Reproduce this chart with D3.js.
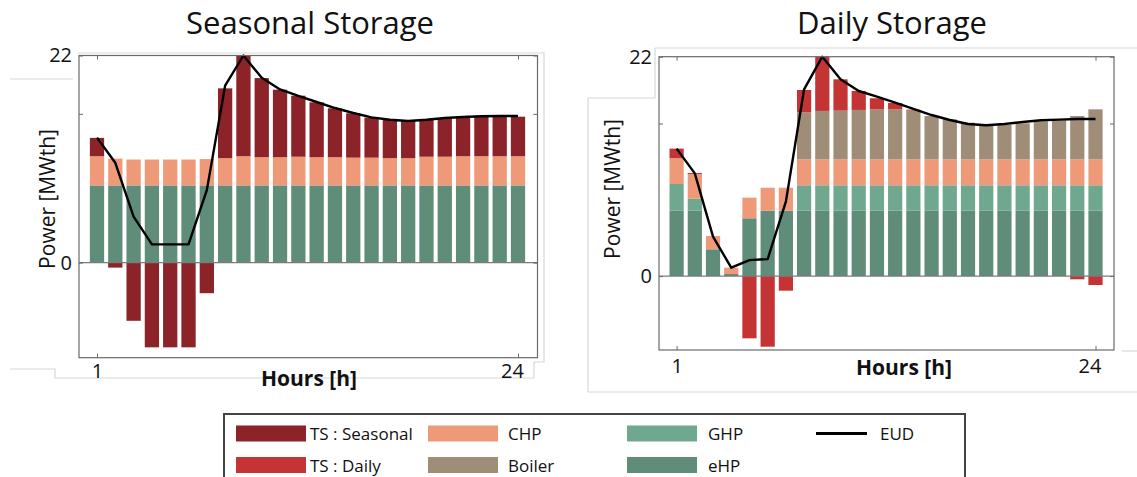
<!DOCTYPE html>
<html>
<head>
<meta charset="utf-8">
<script src="https://cdn.jsdelivr.net/npm/d3@7"></script>
<style>
  html, body { margin: 0; padding: 0; background: #ffffff; }
  svg { display: block; font-family: "Open Sans", "DejaVu Sans", sans-serif; }
</style>
</head>
<body>
<svg id="chart" width="1137" height="477"></svg>
<script>
// ---------------- DATA ----------------
const hours = [1,2,3,4,5,6,7,8,9,10,11,12,13,14,15,16,17,18,19,20,21,22,23,24];
const hourTickValues = [1, 24];
const yTickValues = [0, 22];

// Seasonal storage scenario (MWth)
const seasonalEHP = [8.2,8.2,8.2,8.2,8.2,8.2,8.2,8.2,8.2,8.2,8.2,8.2,8.2,8.2,8.2,8.2,8.2,8.2,8.2,8.2,8.2,8.2,8.2,8.2];
const seasonalCHP = [3.1,2.85,2.75,2.75,2.75,2.75,2.8,2.9,3.1,3.0,3.0,3.05,3.0,3.0,2.95,2.95,2.9,2.9,3.05,3.05,3.1,3.1,3.1,3.1];
const seasonalTS  = [1.95,-0.53,-6.18,-9.0,-9.0,-9.0,-3.25,7.41,10.67,8.4,7.17,6.48,5.83,5.19,4.71,4.25,4.05,3.95,3.9,4.08,4.14,4.17,4.2,4.2];
const seasonalEUD = [13.28,10.6,4.88,1.94,1.94,1.94,7.7,18.8,22.0,19.63,18.4,17.7,17.06,16.42,15.89,15.43,15.18,15.05,15.18,15.36,15.47,15.54,15.58,15.58];
const seasonalMinorTicks = [15.8];

// Daily storage scenario (MWth)
const dailyEHP    = [6.55,6.55,2.68,0.2,5.79,6.55,6.55,6.55,6.55,6.55,6.55,6.55,6.55,6.55,6.55,6.55,6.55,6.55,6.55,6.55,6.55,6.55,6.55,6.55];
const dailyGHP    = [2.68,1.21,0,0,0,0,0,2.55,2.55,2.55,2.55,2.55,2.55,2.55,2.55,2.55,2.55,2.55,2.55,2.55,2.55,2.55,2.55,2.55];
const dailyCHP    = [2.58,2.47,1.33,0.64,2.07,2.31,2.31,2.6,2.6,2.6,2.6,2.6,2.6,2.6,2.6,2.6,2.6,2.6,2.6,2.6,2.6,2.6,2.6,2.6];
const dailyBoiler = [0,0,0,0,0,0,0,4.72,4.86,4.89,4.96,5.02,5.02,4.89,4.35,4.02,3.68,3.45,3.45,3.62,3.82,3.92,4.35,5.02];
const dailyTS     = [0.97,0.1,0,0,-6.25,-7.09,-1.47,2.24,5.44,3.14,1.9,1.11,0.64,0.1,0,0,0,0,0,0,0,0,-0.33,-0.9];
const dailyEUD    = [12.78,10.3,3.95,0.84,1.6,1.7,7.46,18.73,22.0,19.73,18.56,18.0,17.4,16.76,16.15,15.65,15.25,15.12,15.25,15.45,15.62,15.69,15.75,15.75];
const dailyMinorTicks = [15.3];

const seriesKeys = ["eHP", "GHP", "CHP", "Boiler", "TS : Daily", "TS : Seasonal"];
const colors = {
  "TS : Seasonal": "#8B2328",
  "TS : Daily": "#C43434",
  "CHP": "#EE9A79",
  "Boiler": "#A08D78",
  "GHP": "#6FA88F",
  "eHP": "#5F8D79"
};
const titles = ["Seasonal Storage", "Daily Storage"];
const yLabel = "Power [MWth]";
const xLabel = "Hours [h]";
const legendRows = [
  ["TS : Seasonal", "CHP", "GHP", "EUD"],
  ["TS : Daily", "Boiler", "eHP"]
];

// ---------------- DRAW ----------------
const svg = d3.select("#chart");

function buildRows(parts) {
  return hours.map((h, i) => {
    const row = { hour: h };
    seriesKeys.forEach(k => { row[k] = parts[k] ? parts[k][i] : 0; });
    return row;
  });
}

function drawPanel(cfg) {
  const g = svg.append("g");
  const step = (cfg.c24 - cfg.c1) / 23;
  const x = d3.scaleBand().domain(hours)
    .range([cfg.c1 - step / 2, cfg.c24 + step / 2])
    .paddingInner(0.22).paddingOuter(0.11);
  const y = d3.scaleLinear().domain(cfg.yDomain).range([cfg.bottom, cfg.top]);

  // decorative pasted-image outline
  cfg.decor.forEach(pts => {
    g.append("path").attr("d", d3.line()(pts))
      .attr("fill", "none").attr("stroke", "#d8d8d8").attr("stroke-width", 1.2);
  });

  // title
  g.append("text").attr("x", cfg.titleX).attr("y", 34)
    .attr("text-anchor", "middle").attr("font-size", 31).attr("fill", "#111")
    .text(cfg.title);

  // frame background
  g.append("rect").attr("x", cfg.left).attr("y", cfg.top)
    .attr("width", cfg.right - cfg.left).attr("height", cfg.bottom - cfg.top)
    .attr("fill", "#fff");

  // bars
  const rows = buildRows(cfg.parts);
  const stack = d3.stack().keys(seriesKeys).offset(d3.stackOffsetDiverging);
  const layers = stack(rows);
  g.append("g").selectAll("g").data(layers).join("g")
    .attr("fill", d => colors[d.key])
    .selectAll("rect").data(d => d.filter(v => v[1] !== v[0])).join("rect")
    .attr("x", d => x(d.data.hour))
    .attr("width", x.bandwidth())
    .attr("y", d => y(Math.max(d[0], d[1])))
    .attr("height", d => Math.abs(y(d[0]) - y(d[1])));

  // zero line
  g.append("line").attr("x1", cfg.left).attr("x2", cfg.right)
    .attr("y1", y(0)).attr("y2", y(0))
    .attr("stroke", "#7a7a7a").attr("stroke-width", 1.3);

  // EUD line
  const line = d3.line()
    .x((d, i) => x(hours[i]) + x.bandwidth() / 2)
    .y(d => y(d));
  g.append("path").datum(cfg.eud).attr("d", line)
    .attr("fill", "none").attr("stroke", "#000").attr("stroke-width", 2.4)
    .attr("stroke-linejoin", "round");

  // frame
  g.append("rect").attr("x", cfg.left).attr("y", cfg.top)
    .attr("width", cfg.right - cfg.left).attr("height", cfg.bottom - cfg.top)
    .attr("fill", "none").attr("stroke", "#6a6a6a").attr("stroke-width", 1.2);

  const xc = d3.scaleLinear().domain([hours[0], hours[hours.length - 1]]).range([cfg.c1, cfg.c24]);

  // axes
  const yAll = yTickValues.concat(cfg.minor);
  const yAxis = d3.axisLeft(y).tickValues(yAll).tickSizeInner(-4).tickSizeOuter(0).tickPadding(7)
    .tickFormat(d => yTickValues.includes(d) ? String(d) : "");
  const ga = g.append("g").attr("transform", `translate(${cfg.left},0)`).call(yAxis);
  const yAxisR = d3.axisRight(y).tickValues(yAll).tickSizeInner(-4).tickSizeOuter(0).tickFormat("");
  const gr = g.append("g").attr("transform", `translate(${cfg.right},0)`).call(yAxisR);
  const xAxis = d3.axisBottom(xc).tickValues(hourTickValues).tickSizeInner(-4).tickSizeOuter(0).tickPadding(cfg.xPad)
    .tickFormat(d => String(d));
  const gb = g.append("g").attr("transform", `translate(0,${cfg.bottom})`).call(xAxis);
  const xAxisT = d3.axisTop(xc).tickValues(hourTickValues).tickSizeInner(-4).tickSizeOuter(0).tickFormat("");
  const gt = g.append("g").attr("transform", `translate(0,${cfg.top})`).call(xAxisT);
  [ga, gr, gb, gt].forEach(a => {
    a.select(".domain").remove();
    a.selectAll(".tick line").attr("stroke", "#6a6a6a");
    a.selectAll("text").attr("font-family", "\"Open Sans\", sans-serif")
      .attr("font-size", 20).attr("fill", "#111");
  });
  gb.selectAll(".tick text").attr("dx", d => d === 24 ? -6 : 0);

  // axis titles
  g.append("text")
    .attr("transform", `translate(${cfg.yLabelX},${cfg.yLabelY}) rotate(-90)`)
    .attr("text-anchor", "middle").attr("dominant-baseline", "central")
    .attr("font-size", 21).attr("fill", "#111").text(yLabel);
  g.append("text").attr("x", cfg.xLabelX).attr("y", cfg.xLabelY)
    .attr("text-anchor", "middle").attr("dominant-baseline", "central")
    .attr("font-size", 21).attr("font-weight", "bold").attr("fill", "#111").text(xLabel);
}

drawPanel({
  title: titles[0], titleX: 310,
  left: 79, right: 537.5, top: 55.5, bottom: 357.7,
  c1: 97, c24: 518, yDomain: [-10.1, 22], minor: seasonalMinorTicks,
  xPad: 6,
  parts: { "eHP": seasonalEHP, "CHP": seasonalCHP, "TS : Seasonal": seasonalTS },
  eud: seasonalEUD,
  yLabelX: 47, yLabelY: 199, xLabelX: 309, xLabelY: 378,
  decor: [
    [[10, 79], [73, 79]],
    [[10, 369], [55, 369], [55, 378], [534, 378], [534, 362], [544, 362], [544, 53], [78, 53]]
  ]
});

drawPanel({
  title: titles[1], titleX: 892,
  left: 659, right: 1114, top: 56.7, bottom: 350,
  c1: 676.6, c24: 1095.5, yDomain: [-7.42, 22], minor: dailyMinorTicks,
  xPad: 9,
  parts: { "eHP": dailyEHP, "GHP": dailyGHP, "CHP": dailyCHP, "Boiler": dailyBoiler, "TS : Daily": dailyTS },
  eud: dailyEUD,
  yLabelX: 612, yLabelY: 189, xLabelX: 904, xLabelY: 367,
  decor: [
    [[655, 48], [1137, 48]],
    [[655, 48], [655, 98], [588, 98], [588, 392], [1137, 392]],
    [[1122, 351], [1137, 351]]
  ]
});

// ---------------- LEGEND ----------------
const lg = svg.append("g");
lg.append("rect").attr("x", 224).attr("y", 414).attr("width", 741).attr("height", 80)
  .attr("fill", "#fff").attr("stroke", "#444").attr("stroke-width", 2);
const colX = [236, 428, 627, 816];
const textX = [310, 508, 708, 880];
const rowY = [433.5, 465];
legendRows.forEach((row, r) => {
  row.forEach((name, c) => {
    if (name === "EUD") {
      lg.append("line").attr("x1", colX[c]).attr("x2", colX[c] + 51)
        .attr("y1", rowY[r]).attr("y2", rowY[r]).attr("stroke", "#000").attr("stroke-width", 3);
    } else {
      lg.append("rect").attr("x", colX[c]).attr("y", rowY[r] - 8).attr("width", 70).attr("height", 16)
        .attr("fill", colors[name]);
    }
    lg.append("text").attr("x", textX[c]).attr("y", rowY[r])
      .attr("dominant-baseline", "central").attr("font-size", 17).attr("fill", "#111").text(name);
  });
});
</script>
</body>
</html>
